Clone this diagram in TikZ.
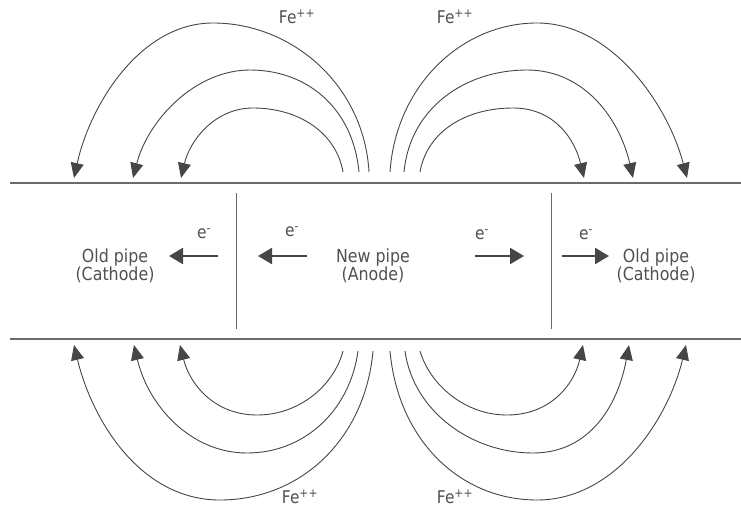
\documentclass[tikz,border=0pt]{standalone}
\usepackage{fontspec}
\setmainfont{DejaVu Sans}[FakeStretch=0.88]
\usetikzlibrary{arrows.meta}
\definecolor{txt}{HTML}{505050}
\definecolor{ink}{HTML}{464646}
\definecolor{pipe}{HTML}{6A6A6A}
\begin{document}
\begin{tikzpicture}[x=1pt,y=-1pt,
  lbl/.style={text=txt,font=\fontsize{18}{18.5}\selectfont,align=center,inner sep=0pt},
  elbl/.style={text=txt,font=\fontsize{17.5}{19}\selectfont,inner sep=0pt},
  ion/.style={draw=ink,line width=0.9pt,-{Triangle[length=15pt,width=13pt]}},
  eflow/.style={draw=ink,line width=2.2pt,-{Triangle[length=14pt,width=16pt]}},
  wall/.style={draw=pipe,line width=1.4pt},
  joint/.style={draw=pipe,line width=0.9pt}]
\useasboundingbox (0,0) rectangle (741,516);
% pipe walls
\coordinate (tl) at (10,183); \coordinate (tr) at (741,183);
\coordinate (bl) at (10,339); \coordinate (br) at (741,339);
\draw[wall] (tl) -- (tr);
\draw[wall] (bl) -- (br);
% joints
\coordinate (j1t) at (236,193); \coordinate (j1b) at (236,329);
\coordinate (j2t) at (551,193); \coordinate (j2b) at (551,329);
\draw[joint] (j1t) -- (j1b);
\draw[joint] (j2t) -- (j2b);
% labels
\node[lbl] (oldL) at (115,266) {Old pipe\\(Cathode)};
\node[lbl] (new) at (373,266) {New pipe\\(Anode)};
\node[lbl] (oldR) at (656,266) {Old pipe\\(Cathode)};
% electron arrows
\coordinate (e1s) at (218,256); \coordinate (e1e) at (169,256);
\coordinate (e2s) at (307,256); \coordinate (e2e) at (258,256);
\coordinate (e3s) at (475,256); \coordinate (e3e) at (524,256);
\coordinate (e4s) at (562,256); \coordinate (e4e) at (609,256);
\draw[eflow] (e1s) -- (e1e);
\draw[eflow] (e2s) -- (e2e);
\draw[eflow] (e3s) -- (e3e);
\draw[eflow] (e4s) -- (e4e);
\node[elbl] (el1) at (204,234) {e\textsuperscript{-}};
\node[elbl] (el2) at (292,232) {e\textsuperscript{-}};
\node[elbl] (el3) at (482,235) {e\textsuperscript{-}};
\node[elbl] (el4) at (586,235) {e\textsuperscript{-}};
% Fe labels
\node[elbl] (fe1) at (297,17) {Fe\textsuperscript{++}};
\node[elbl] (fe2) at (455,17) {Fe\textsuperscript{++}};
\node[elbl] (fe3) at (300,497) {Fe\textsuperscript{++}};
\node[elbl] (fe4) at (455,497) {Fe\textsuperscript{++}};
% top-left arcs
\draw[ion] (369,172) .. controls (364,85) and (292,23) .. (213,23) .. controls (140,23) and (90,105) .. (74,178);
\draw[ion] (359,172) .. controls (353,108) and (307,70) .. (250,70) .. controls (195,70) and (148,120) .. (133,178);
\draw[ion] (343,172) .. controls (336,132) and (298,108) .. (253,108) .. controls (215,108) and (190,140) .. (181,178);
% top-right arcs
\draw[ion] (390,172) .. controls (396,85) and (462,23) .. (537,23) .. controls (612,23) and (668,105) .. (687,178);
\draw[ion] (404,172) .. controls (410,108) and (465,70) .. (527,70) .. controls (585,70) and (620,120) .. (633,178);
\draw[ion] (420,172) .. controls (427,132) and (465,108) .. (513,108) .. controls (555,108) and (575,140) .. (584,178);
% bottom-left arcs
\draw[ion] (373,351) .. controls (365,440) and (300,500) .. (220,500) .. controls (140,500) and (92,420) .. (74,345);
\draw[ion] (358,351) .. controls (350,410) and (305,453) .. (247,453) .. controls (190,453) and (148,405) .. (134,345);
\draw[ion] (343,351) .. controls (334,385) and (300,415) .. (257,415) .. controls (215,415) and (190,385) .. (180,345);
% bottom-right arcs
\draw[ion] (390,351) .. controls (398,440) and (460,500) .. (537,500) .. controls (615,500) and (668,420) .. (686,345);
\draw[ion] (405,351) .. controls (413,410) and (470,453) .. (533,453) .. controls (590,453) and (618,405) .. (629,345);
\draw[ion] (420,351) .. controls (430,385) and (465,415) .. (507,415) .. controls (550,415) and (574,385) .. (583,345);
\end{tikzpicture}
\end{document}
